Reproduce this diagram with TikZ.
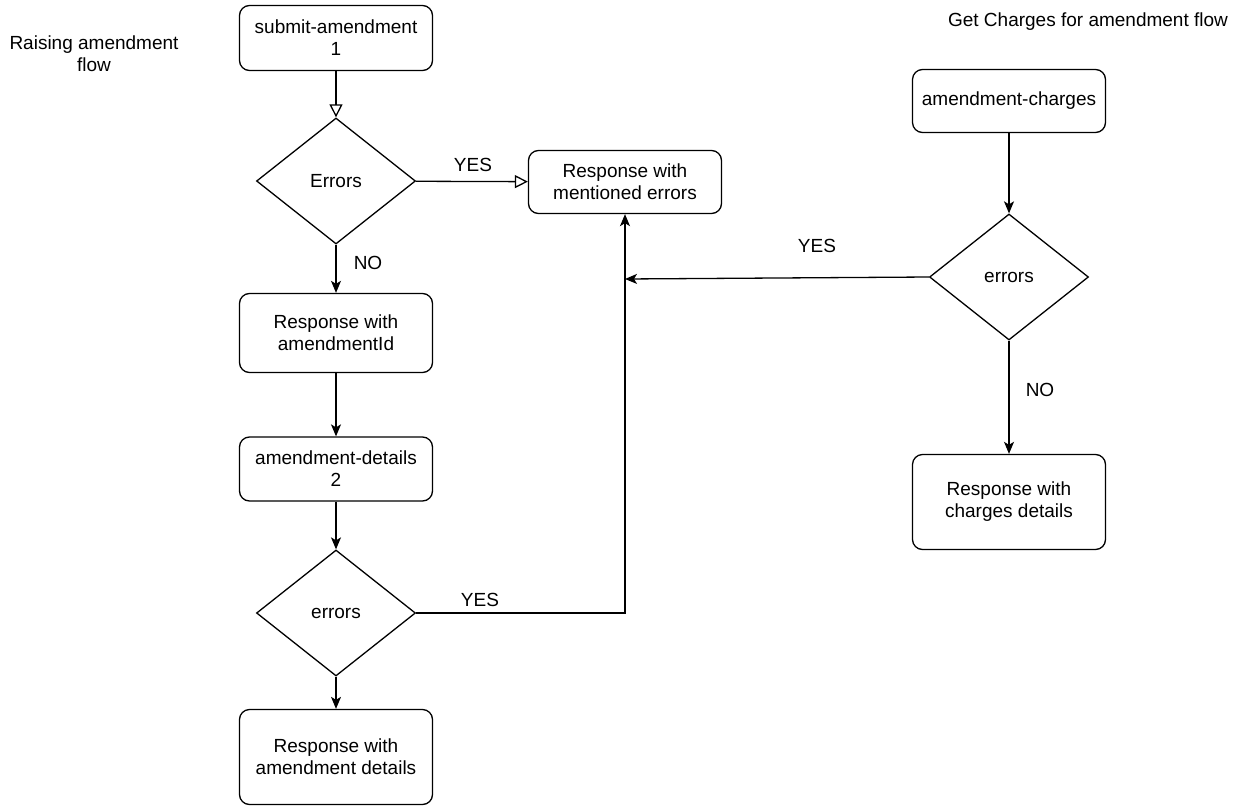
\documentclass[tikz,border=0pt]{standalone}
\usepackage{fontspec}
\setmainfont{Liberation Sans}
\usetikzlibrary{shapes.geometric,arrows.meta}
\begin{document}
\begin{tikzpicture}[x=1pt,y=-1pt,
  every node/.style={font=\fontsize{19}{22}\selectfont},
  box/.style={draw,rounded corners=10pt,line width=1.3pt,minimum width=193pt,align=center,inner sep=0pt},
  dia/.style={draw,diamond,line width=1.3pt,minimum width=159pt,minimum height=126pt,inner sep=0pt},
  lbl/.style={inner sep=0pt},
  conn/.style={line width=1.3pt,-{Stealth[length=12pt,width=10pt,inset=3pt]}},
  oconn/.style={line width=1.3pt,-{Triangle[open,length=13pt,width=13pt]}}]
\useasboundingbox (0,0) rectangle (1240,806);
\node[lbl,align=center] (t1) at (94,54) {Raising amendment\\flow};
\node[lbl] (t2) at (1088,22) {Get Charges for amendment flow};
\node[box,minimum height=65pt] (sub) at (336,38) {submit-amendment\\1};
\node[dia] (e1) at (336,181) {Errors};
\node[box,minimum height=63pt] (rerr) at (625,182) {Response with\\mentioned errors};
\node[box,minimum height=79pt] (rid) at (336,333) {Response with\\amendmentId};
\node[box,minimum height=64pt] (det) at (336,469) {amendment-details\\2};
\node[dia] (e2) at (336,613) {errors};
\node[box,minimum height=95pt] (rdet) at (336,757) {Response with\\amendment details};
\node[box,minimum height=63pt] (chg) at (1009,101) {amendment-charges};
\node[dia] (e3) at (1009,277) {errors};
\node[box,minimum height=95pt] (rchg) at (1009,502) {Response with\\charges details};
\coordinate (j) at (625,279);
\draw[oconn] (sub) -- (e1);
\draw[oconn] (e1) -- (rerr);
\node[lbl] (y1) at (473,165) {YES};
\draw[conn] (e1) -- (rid);
\node[lbl] (n1) at (368,263) {NO};
\draw[conn] (rid) -- (det);
\draw[conn] (det) -- (e2);
\draw[conn] (e2) -- (rdet);
\draw[conn] (e2.east) -| (rerr.south);
\node[lbl] (y2) at (480,600) {YES};
\draw[conn] (chg) -- (e3);
\draw[conn] (e3.west) -- (j);
\node[lbl] (y3) at (817,246) {YES};
\draw[conn] (e3) -- (rchg);
\node[lbl] (n3) at (1040,390) {NO};
\end{tikzpicture}
\end{document}
